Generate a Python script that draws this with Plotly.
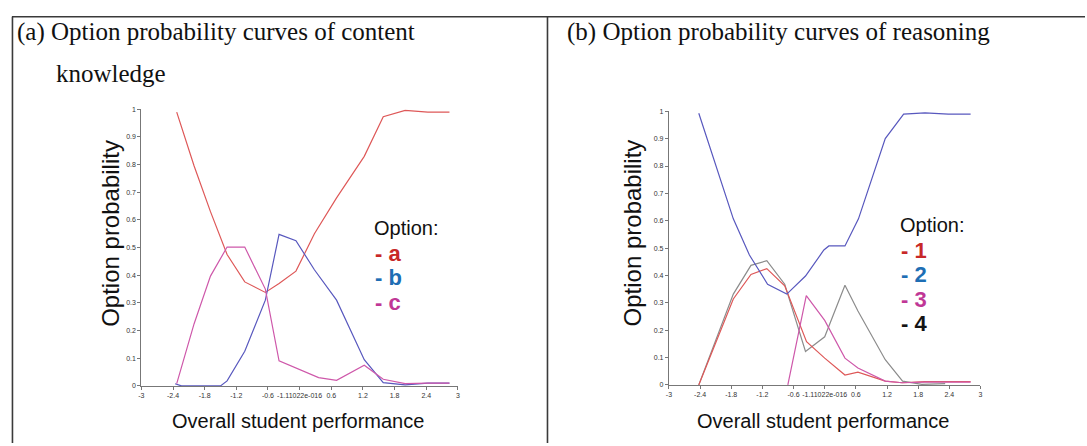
import plotly.graph_objects as go

# ---------------- data ----------------
x_ticks = [-3, -2.4, -1.8, -1.2, -0.6, 0, 0.6, 1.2, 1.8, 2.4, 3]
x_tick_labels = ["-3", "-2.4", "-1.8", "-1.2", "-0.6", "-1.11022e-016", "0.6", "1.2", "1.8", "2.4", "3"]
y_ticks = [0, 0.1, 0.2, 0.3, 0.4, 0.5, 0.6, 0.7, 0.8, 0.9, 1]
y_tick_labels = ["0", "0.1", "0.2", "0.3", "0.4", "0.5", "0.6", "0.7", "0.8", "0.9", "1"]

# (a) content knowledge
a_x = [-2.33, -2.0, -1.69, -1.375, -1.04, -0.65, -0.39, -0.07, 0.28, 0.70, 1.225, 1.585, 2.0, 2.43, 2.84]
a_y = [0.99, 0.795, 0.63, 0.475, 0.376, 0.338, 0.37, 0.415, 0.55, 0.68, 0.83, 0.973, 0.996, 0.99, 0.99]
b_x = [-2.36, -2.24, -1.5, -1.375, -1.04, -0.65, -0.39, -0.07, 0.28, 0.70, 1.225, 1.585, 2.0, 2.43, 2.84]
b_y = [0.008, 0.0, 0.0, 0.018, 0.125, 0.31, 0.548, 0.525, 0.42, 0.31, 0.095, 0.012, 0.004, 0.01, 0.01]
c_x = [-2.33, -2.0, -1.69, -1.375, -1.04, -0.65, -0.39, -0.07, 0.36, 0.70, 1.225, 1.585, 2.0, 2.43, 2.84]
c_y = [0.008, 0.225, 0.397, 0.502, 0.502, 0.35, 0.091, 0.065, 0.03, 0.02, 0.075, 0.024, 0.008, 0.01, 0.01]

# (b) reasoning
r1_x = [-2.425, -1.76, -1.42, -1.115, -0.77, -0.35, 0.0, 0.39, 0.64, 1.166, 1.49, 1.93, 2.81]
r1_y = [0.0, 0.314, 0.404, 0.425, 0.362, 0.158, 0.098, 0.036, 0.047, 0.014, 0.008, 0.012, 0.012]
r2_x = [-2.425, -2.09, -1.76, -1.45, -1.10, -0.73, -0.37, -0.016, 0.08, 0.39, 0.65, 1.166, 1.52, 1.93, 2.38, 2.81]
r2_y = [0.993, 0.80, 0.607, 0.475, 0.368, 0.332, 0.398, 0.493, 0.508, 0.508, 0.607, 0.90, 0.99, 0.994, 0.99, 0.99]
r3_x = [-0.71, -0.355, 0.0, 0.39, 0.64, 1.166, 1.49, 1.93, 2.81]
r3_y = [0.0, 0.326, 0.236, 0.098, 0.062, 0.014, 0.008, 0.01, 0.01]
r4_x = [-2.425, -1.76, -1.42, -1.115, -0.77, -0.37, 0.0, 0.39, 0.64, 1.166, 1.50, 1.87, 2.32]
r4_y = [0.0, 0.332, 0.437, 0.454, 0.368, 0.122, 0.176, 0.364, 0.27, 0.092, 0.014, 0.002, 0.005]

# ---------------- styles ----------------
RED = "rgb(222,88,88)"
BLUE = "rgb(88,88,190)"
PINK = "rgb(206,88,170)"
GRAY = "rgb(140,140,140)"

fig = go.Figure()

def line(x, y, color, xa, ya):
    fig.add_trace(go.Scatter(x=x, y=y, mode="lines", line=dict(color=color, width=1.2),
                             xaxis=xa, yaxis=ya, showlegend=False, hoverinfo="skip"))

line(a_x, a_y, RED, "x", "y")
line(b_x, b_y, BLUE, "x", "y")
line(c_x, c_y, PINK, "x", "y")

line(r4_x, r4_y, GRAY, "x2", "y2")
line(r1_x, r1_y, RED, "x2", "y2")
line(r3_x, r3_y, PINK, "x2", "y2")
line(r2_x, r2_y, BLUE, "x2", "y2")

W, H = 1087, 446

def px(x):
    return x / W

def py(y):
    return 1 - y / H

tickfont = dict(family="Liberation Sans, Arial", size=7, color="#333")
xcommon = dict(range=[-3, 3], tickmode="array", tickvals=x_ticks, ticktext=x_tick_labels,
               showline=True, linecolor="#777", linewidth=1, ticks="outside", ticklen=3,
               tickcolor="#777", showgrid=False, zeroline=False, tickfont=tickfont, fixedrange=True)
ycommon = dict(range=[0, 1], tickmode="array", tickvals=y_ticks, ticktext=y_tick_labels,
               showline=True, linecolor="#777", linewidth=1, ticks="outside", ticklen=3,
               tickcolor="#777", showgrid=False, zeroline=False, tickfont=tickfont, fixedrange=True)

fig.update_layout(
    width=W, height=H,
    margin=dict(l=0, r=0, t=0, b=0),
    paper_bgcolor="white", plot_bgcolor="white",
    xaxis=dict(domain=[px(139), px(457)], anchor="y", **xcommon),
    yaxis=dict(domain=[py(388), py(107)], anchor="x", **ycommon),
    xaxis2=dict(domain=[px(669), px(982)], anchor="y2", **xcommon),
    yaxis2=dict(domain=[py(387), py(109)], anchor="x2", **ycommon),
)

# table borders
border = dict(color="#3a3a3a", width=1.6)
fig.add_shape(type="line", xref="paper", yref="paper", x0=px(9), x1=1.0, y0=py(13), y1=py(13), line=border)
fig.add_shape(type="line", xref="paper", yref="paper", x0=px(9.5), x1=px(9.5), y0=py(13), y1=0, line=border)
fig.add_shape(type="line", xref="paper", yref="paper", x0=px(547), x1=px(547), y0=py(13), y1=0, line=border)

serif = dict(family="Liberation Serif, Times New Roman", size=25, color="#111")
sans = "Liberation Sans, Arial"

def ann(text, x, y, font, xanchor="left", yanchor="middle", textangle=0):
    fig.add_annotation(text=text, x=px(x), y=py(y), xref="paper", yref="paper",
                       showarrow=False, xanchor=xanchor, yanchor=yanchor, font=font,
                       textangle=textangle)

ann("(a) Option probability curves of content", 12, 28, serif)
ann("knowledge", 51, 71, serif)
ann("(b) Option probability curves of reasoning", 565, 28, serif)

ylabel_font = dict(family=sans, size=24, color="#111")
xlabel_font = dict(family=sans, size=20, color="#111")
ann("Option probability", 108, 233, ylabel_font, xanchor="center", textangle=-90)
ann("Option probability", 632, 233, ylabel_font, xanchor="center", textangle=-90)
ann("Overall student performance", 296, 424, xlabel_font, xanchor="center")
ann("Overall student performance", 824, 424, xlabel_font, xanchor="center")

# legends
leg_font = dict(family=sans, size=20, color="#111")
def leg_item(text, color, x, y):
    ann("<b>- " + text + "</b>", x, y, dict(family=sans, size=22, color=color))

LRED = "rgb(200,40,40)"
LBLUE = "rgb(30,110,180)"
LPINK = "rgb(192,55,150)"
LBLACK = "rgb(20,20,20)"

ann("Option:", 371, 228, leg_font)
leg_item("a", LRED, 372, 253)
leg_item("b", LBLUE, 372, 278)
leg_item("c", LPINK, 372, 303)

ann("Option:", 899, 225, leg_font)
leg_item("1", LRED, 900, 250)
leg_item("2", LBLUE, 900, 275)
leg_item("3", LPINK, 900, 300)
leg_item("4", LBLACK, 900, 325)

fig.write_html("out.html", config={"displayModeBar": False},
               post_script="document.body.style.margin='0';document.body.style.overflow='hidden';")
